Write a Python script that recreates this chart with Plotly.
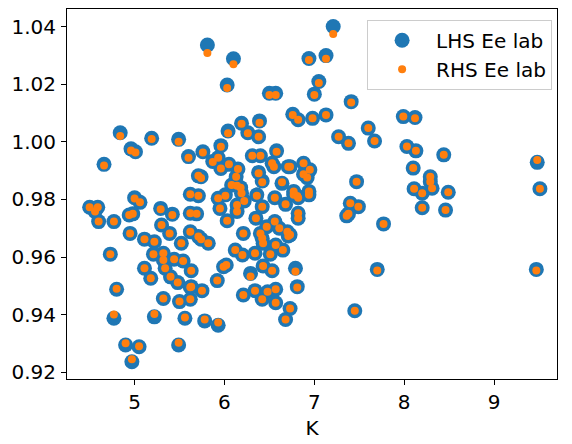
import plotly.graph_objects as go

# values (K, LHS Ee lab, RHS Ee lab)
K = [5.81, 6.10, 6.03, 6.50, 6.57, 6.94, 7.13, 7.21, 7.05, 7.00,
     7.41, 6.76, 6.82, 6.98, 7.13, 7.99, 8.12, 7.27, 7.38, 7.60,
     7.67, 8.03, 8.13, 8.44, 9.48, 9.51, 6.19, 6.39, 6.04, 6.26,
     6.38, 4.84, 5.19, 5.49, 4.96, 5.01, 4.66, 5.60, 5.76, 5.96,
     5.87, 5.93, 5.96, 6.05, 6.15, 5.74, 6.13, 6.31, 6.40, 6.58,
     6.53, 6.55, 6.38, 6.42, 6.64, 6.71, 6.88, 6.88, 6.08, 6.14,
     6.18, 6.01, 5.93, 5.95, 6.14, 6.14, 6.19, 6.22, 6.36, 6.42,
     6.56, 6.68, 6.77, 6.82, 5.62, 5.71, 5.00, 5.06, 4.50, 4.59,
     4.56, 5.29, 5.42, 4.94, 4.98, 5.62, 5.69, 4.60, 4.77, 4.95,
     5.11, 5.22, 5.30, 5.39, 5.52, 5.62, 5.71, 5.74, 5.82, 6.03,
     6.21, 6.35, 6.47, 6.56, 6.61, 6.40, 6.42, 6.43, 6.71, 6.57,
     6.65, 6.82, 6.82, 6.12, 6.20, 6.34, 6.51, 6.43, 6.53, 6.29,
     5.99, 6.02, 5.92, 6.79, 6.81, 6.21, 6.34, 6.42, 6.48, 6.57,
     6.57, 6.73, 6.68, 4.73, 4.80, 4.77, 5.22, 4.90, 5.05, 4.97,
     5.49, 5.56, 5.78, 5.93, 5.32, 5.50, 5.62, 5.62, 5.75, 5.11,
     5.18, 5.21, 5.32, 5.32, 5.34, 5.44, 5.54, 5.40, 5.48, 5.63,
     5.63, 6.73, 6.95, 6.92, 6.77, 6.81, 6.94, 6.94, 7.47, 8.10,
     8.29, 8.29, 8.31, 8.11, 8.20, 8.49, 7.40, 7.49, 8.20, 8.46,
     7.36, 7.38, 7.77, 7.70, 9.47, 7.45, 6.73, 6.70, 5.71]

lhs = [1.0337, 1.0289, 1.0198, 1.0169, 1.0169, 1.0290, 1.0300, 1.0401, 1.0210, 1.0166,
       1.0140, 1.0096, 1.0077, 1.0082, 1.0094, 1.0088, 1.0085, 1.0018, 0.9995, 1.0048,
       1.0003, 0.9984, 0.9969, 0.9955, 0.9929, 0.9837, 1.0065, 1.0073, 1.0038, 1.0032,
       1.0018, 1.0032, 1.0013, 1.0009, 0.9976, 0.9966, 0.9922, 0.9949, 0.9966, 0.9987,
       0.9932, 0.9945, 0.9908, 0.9922, 0.9906, 0.9879, 0.9879, 0.9952, 0.9952, 0.9969,
       0.9926, 0.9914, 0.9894, 0.9864, 0.9856, 0.9914, 0.9926, 0.9888, 0.9850, 0.9850,
       0.9841, 0.9816, 0.9804, 0.9769, 0.9781, 0.9758, 0.9822, 0.9795, 0.9816, 0.9775,
       0.9806, 0.9783, 0.9816, 0.9806, 0.9818, 0.9813, 0.9806, 0.9790, 0.9773, 0.9773,
       0.9758, 0.9769, 0.9749, 0.9746, 0.9750, 0.9752, 0.9750, 0.9723, 0.9723, 0.9682,
       0.9662, 0.9653, 0.9711, 0.9682, 0.9648, 0.9688, 0.9671, 0.9662, 0.9648, 0.9726,
       0.9682, 0.9735, 0.9705, 0.9723, 0.9700, 0.9682, 0.9665, 0.9648, 0.9673, 0.9642,
       0.9624, 0.9752, 0.9735, 0.9624, 0.9607, 0.9613, 0.9610, 0.9569, 0.9552, 0.9543,
       0.9566, 0.9572, 0.9518, 0.9561, 0.9497, 0.9468, 0.9483, 0.9453, 0.9479, 0.9488,
       0.9441, 0.9421, 0.9383, 0.9610, 0.9488, 0.9387, 0.9392, 0.9294, 0.9288, 0.9236,
       0.9294, 0.9387, 0.9378, 0.9363, 0.9456, 0.9445, 0.9453, 0.9495, 0.9483, 0.9561,
       0.9526, 0.9610, 0.9613, 0.9590, 0.9561, 0.9592, 0.9586, 0.9531, 0.9511, 0.9552,
       0.9497, 0.9914, 0.9903, 0.9876, 0.9828, 0.9812, 0.9828, 0.9816, 0.9862, 0.9909,
       0.9879, 0.9862, 0.9839, 0.9837, 0.9822, 0.9825, 0.9787, 0.9775, 0.9771, 0.9763,
       0.9743, 0.9750, 0.9715, 0.9557, 0.9557, 0.9413, 0.9677, 0.9688, 0.9882]

rhs = [1.0309, 1.0270, 1.0187, 1.0163, 1.0163, 1.0285, 1.0289, 1.0375, 1.0205, 1.0163,
       1.0137, 1.0094, 1.0077, 1.0082, 1.0094, 1.0088, 1.0082, 1.0018, 0.9995, 1.0048,
       1.0003, 0.9984, 0.9969, 0.9955, 0.9937, 0.9837, 1.0063, 1.0067, 1.0030, 1.0030,
       1.0018, 1.0021, 1.0010, 1.0001, 0.9970, 0.9963, 0.9918, 0.9945, 0.9963, 0.9983,
       0.9930, 0.9945, 0.9908, 0.9922, 0.9906, 0.9875, 0.9879, 0.9952, 0.9952, 0.9966,
       0.9926, 0.9914, 0.9891, 0.9860, 0.9860, 0.9914, 0.9926, 0.9888, 0.9850, 0.9848,
       0.9841, 0.9813, 0.9804, 0.9769, 0.9781, 0.9758, 0.9822, 0.9795, 0.9813, 0.9775,
       0.9806, 0.9783, 0.9816, 0.9806, 0.9818, 0.9813, 0.9803, 0.9790, 0.9773, 0.9773,
       0.9758, 0.9766, 0.9746, 0.9746, 0.9750, 0.9752, 0.9750, 0.9723, 0.9723, 0.9682,
       0.9662, 0.9653, 0.9711, 0.9682, 0.9648, 0.9688, 0.9671, 0.9662, 0.9648, 0.9726,
       0.9682, 0.9735, 0.9705, 0.9723, 0.9700, 0.9682, 0.9665, 0.9648, 0.9673, 0.9642,
       0.9624, 0.9752, 0.9735, 0.9624, 0.9607, 0.9613, 0.9610, 0.9569, 0.9552, 0.9532,
       0.9566, 0.9572, 0.9518, 0.9550, 0.9494, 0.9468, 0.9483, 0.9453, 0.9479, 0.9488,
       0.9441, 0.9421, 0.9383, 0.9610, 0.9490, 0.9400, 0.9402, 0.9300, 0.9290, 0.9245,
       0.9302, 0.9390, 0.9383, 0.9372, 0.9456, 0.9445, 0.9453, 0.9495, 0.9483, 0.9561,
       0.9526, 0.9610, 0.9613, 0.9590, 0.9561, 0.9592, 0.9586, 0.9531, 0.9511, 0.9552,
       0.9497, 0.9914, 0.9903, 0.9876, 0.9828, 0.9812, 0.9828, 0.9816, 0.9862, 0.9909,
       0.9879, 0.9862, 0.9839, 0.9837, 0.9822, 0.9825, 0.9787, 0.9775, 0.9771, 0.9763,
       0.9743, 0.9750, 0.9715, 0.9553, 0.9553, 0.9413, 0.9677, 0.9688, 0.9882]

font = dict(family="DejaVu Sans", size=20, color="black")

fig = go.Figure()
fig.add_trace(go.Scatter(x=K, y=lhs, mode="markers", name="LHS Ee lab",
                         marker=dict(color="#1f77b4", size=15, line=dict(width=0))))
fig.add_trace(go.Scatter(x=K, y=rhs, mode="markers", name="RHS Ee lab",
                         marker=dict(color="#ff7f0e", size=8, line=dict(width=0))))

axis_style = dict(showline=True, linecolor="black", linewidth=1.1, mirror=True,
                  ticks="outside", ticklen=5, tickwidth=1.1, tickcolor="black",
                  showgrid=False, zeroline=False, tickfont=font, automargin=False)

fig.update_xaxes(range=[4.248, 9.70], tickvals=[5, 6, 7, 8, 9],
                 title=dict(text="K", font=font, standoff=7), **axis_style)
fig.update_yaxes(range=[0.9176, 1.0462], tick0=0.92, dtick=0.02,
                 tickformat=".2f", ticklabelstandoff=1, **axis_style)

# the page body adds an 8px margin, so the figure is 8px smaller than the window
fig.update_layout(
    width=564, height=436,
    margin=dict(l=59, r=15, t=1, b=65),
    paper_bgcolor="white", plot_bgcolor="white",
    font=font,
    showlegend=True,
    legend=dict(x=0.99, y=0.971, xanchor="right", yanchor="top",
                bgcolor="rgba(255,255,255,0.8)", bordercolor="#cccccc",
                borderwidth=1, font=font, itemsizing="trace", itemwidth=58,
                tracegroupgap=8),
)

fig.write_html("out.html")
